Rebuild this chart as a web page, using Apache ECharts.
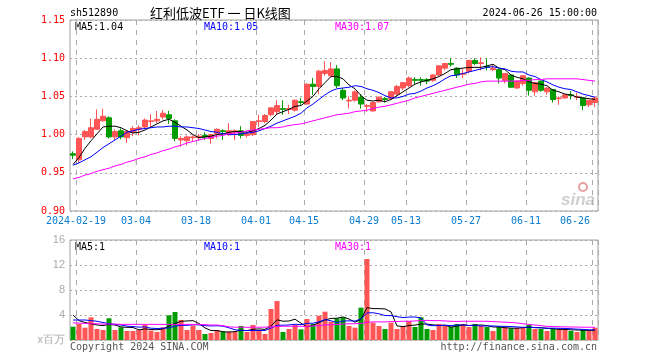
<!DOCTYPE html>
<html><head><meta charset="utf-8">
<script src="https://cdn.jsdelivr.net/npm/echarts@6/dist/echarts.min.js"></script>
<style>html,body{margin:0;padding:0;background:#fff}#c{width:660px;height:360px}</style>
</head><body><div id="c"></div>
<script>
const dates = ['02-08','02-19','02-20','02-21','02-22','02-23','02-26','02-27','02-28','02-29',
'03-01','03-04','03-05','03-06','03-07','03-08','03-11','03-12','03-13','03-14','03-15',
'03-18','03-19','03-20','03-21','03-22','03-25','03-26','03-27','03-28','03-29',
'04-01','04-02','04-03','04-08','04-09','04-10','04-11','04-12','04-15','04-16','04-17','04-18','04-19',
'04-22','04-23','04-24','04-25','04-26','04-29','04-30',
'05-06','05-07','05-08','05-09','05-10','05-13','05-14','05-15','05-16','05-17',
'05-20','05-21','05-22','05-23','05-24','05-27','05-28','05-29','05-30','05-31',
'06-03','06-04','06-05','06-06','06-07','06-11','06-12','06-13','06-14',
'06-17','06-18','06-19','06-20','06-21','06-24','06-25','06-26'];
const tickLabels = {'02-19':'2024-02-19','03-04':'03-04','03-18':'03-18','04-01':'04-01','04-15':'04-15',
'04-29':'04-29','05-13':'05-13','05-27':'05-27','06-11':'06-11','06-26':'06-26'};

const opens = [0.975,0.967,0.997,0.997,1.007,1.018,1.022,0.997,1.005,0.996,
1.003,1.007,1.010,1.017,1.018,1.023,1.026,1.018,0.993,0.992,
0.996,0.996,0.999,0.995,1.001,1.005,1.000,1.003,1.005,0.999,
1.000,1.017,1.017,1.026,1.030,1.034,1.033,1.032,1.043,1.040,
1.066,1.063,1.080,1.077,1.086,1.058,1.044,1.045,1.049,1.037,
1.031,1.043,1.047,1.047,1.053,1.061,1.064,1.072,1.072,1.072,
1.071,1.078,1.087,1.093,1.087,1.079,1.083,1.097,1.093,1.089,
1.085,1.085,1.071,1.078,1.061,1.067,1.074,1.056,1.070,1.056,
1.059,1.047,1.048,1.052,1.049,1.048,1.039,1.042];
const closes = [0.973,0.995,1.004,1.009,1.020,1.024,0.997,1.004,0.997,1.004,
1.008,1.009,1.019,1.018,1.020,1.028,1.021,0.995,0.995,0.997,
0.997,0.998,0.997,1.000,1.007,1.004,1.005,1.005,0.999,1.001,
1.017,1.018,1.025,1.035,1.038,1.033,1.034,1.045,1.042,1.066,
1.063,1.083,1.084,1.086,1.064,1.048,1.045,1.056,1.040,1.038,
1.042,1.049,1.046,1.056,1.063,1.068,1.074,1.071,1.071,1.070,
1.078,1.090,1.093,1.092,1.078,1.080,1.097,1.093,1.094,1.088,
1.087,1.074,1.080,1.062,1.070,1.077,1.058,1.068,1.058,1.061,
1.046,1.048,1.052,1.051,1.050,1.038,1.045,1.048];
const lows = [0.968,0.963,0.993,0.995,1.006,1.017,0.995,0.993,0.994,0.989,
0.998,0.999,1.008,1.010,1.015,1.020,1.014,0.991,0.984,0.986,
0.991,0.992,0.993,0.988,0.995,0.993,0.998,0.993,0.995,0.996,
0.998,1.010,1.015,1.024,1.026,1.026,1.027,1.030,1.039,1.039,
1.052,1.053,1.077,1.075,1.061,1.045,1.034,1.043,1.034,1.030,
1.030,1.042,1.042,1.045,1.051,1.058,1.062,1.066,1.064,1.066,
1.069,1.077,1.084,1.089,1.074,1.074,1.080,1.091,1.084,1.084,
1.083,1.067,1.067,1.061,1.060,1.064,1.051,1.051,1.056,1.052,
1.042,1.039,1.047,1.046,1.045,1.032,1.036,1.036];
const highs = [0.978,0.997,1.006,1.021,1.033,1.034,1.024,1.007,1.008,1.006,
1.011,1.012,1.021,1.027,1.031,1.032,1.031,1.020,0.998,0.999,
0.999,1.001,1.003,1.001,1.008,1.007,1.015,1.007,1.011,1.004,
1.018,1.026,1.027,1.036,1.045,1.045,1.039,1.046,1.048,1.067,
1.074,1.085,1.096,1.095,1.091,1.061,1.050,1.058,1.053,1.040,
1.043,1.050,1.049,1.057,1.065,1.069,1.076,1.075,1.075,1.074,
1.079,1.091,1.094,1.100,1.088,1.086,1.098,1.100,1.101,1.100,
1.091,1.086,1.080,1.079,1.071,1.077,1.075,1.069,1.071,1.062,
1.059,1.050,1.052,1.057,1.055,1.049,1.045,1.049];
const ma5 = [0.961,0.970,0.982,0.992,1.001,1.010,1.011,1.011,1.009,1.005,
1.002,1.003,1.006,1.010,1.014,1.018,1.020,1.016,1.011,1.006,
1.000,0.996,0.997,0.998,1.000,1.001,1.003,1.004,1.004,1.003,
1.005,1.008,1.012,1.019,1.027,1.030,1.033,1.037,1.038,1.044,
1.050,1.060,1.068,1.076,1.076,1.073,1.065,1.060,1.051,1.045,
1.044,1.045,1.043,1.046,1.051,1.056,1.061,1.066,1.069,1.071,
1.073,1.076,1.080,1.085,1.086,1.087,1.088,1.088,1.088,1.090,
1.092,1.087,1.085,1.078,1.075,1.073,1.069,1.067,1.066,1.064,
1.058,1.056,1.053,1.052,1.049,1.048,1.047,1.046];
const ma10 = [0.960,0.963,0.967,0.971,0.977,0.983,0.988,0.993,0.998,1.003,
1.005,1.007,1.008,1.009,1.010,1.010,1.011,1.011,1.010,1.010,
1.009,1.008,1.006,1.004,1.003,1.001,1.000,1.000,1.001,1.002,
1.003,1.005,1.008,1.011,1.015,1.018,1.021,1.024,1.028,1.035,
1.040,1.046,1.052,1.057,1.060,1.061,1.062,1.064,1.063,1.060,
1.058,1.055,1.051,1.048,1.048,1.050,1.053,1.054,1.057,1.061,
1.064,1.068,1.073,1.077,1.078,1.080,1.082,1.084,1.086,1.088,
1.089,1.087,1.086,1.083,1.082,1.082,1.078,1.076,1.072,1.069,
1.065,1.062,1.060,1.059,1.056,1.053,1.051,1.049];
const ma30 = [0.942,0.944,0.947,0.949,0.952,0.954,0.956,0.959,0.961,0.964,
0.966,0.969,0.971,0.974,0.976,0.979,0.981,0.984,0.986,0.989,
0.991,0.993,0.995,0.996,0.998,0.999,1.001,1.002,1.003,1.005,
1.006,1.007,1.008,1.009,1.009,1.010,1.012,1.013,1.014,1.016,
1.018,1.020,1.022,1.024,1.026,1.027,1.028,1.030,1.031,1.032,
1.034,1.036,1.037,1.039,1.041,1.043,1.045,1.048,1.050,1.052,
1.054,1.056,1.058,1.060,1.062,1.064,1.066,1.067,1.069,1.070,
1.070,1.070,1.070,1.070,1.070,1.071,1.071,1.072,1.072,1.073,
1.073,1.073,1.073,1.073,1.073,1.072,1.071,1.070];
const volumes = [2.13,2.56,1.97,3.63,1.76,1.60,3.47,1.60,2.03,1.44,
1.44,1.60,2.40,1.50,1.28,2.03,3.95,4.48,3.20,1.60,
2.29,1.60,0.96,1.12,1.60,1.33,1.33,1.33,2.24,1.28,
2.40,1.60,0.96,4.96,6.24,1.28,1.76,2.40,1.70,3.36,
2.56,3.89,4.53,2.93,3.47,3.63,2.24,1.97,5.17,12.96,
2.77,2.24,1.76,2.77,1.76,2.24,3.04,2.08,3.63,1.76,
1.60,2.56,2.24,2.13,2.56,2.56,2.08,2.56,2.24,2.08,
1.44,2.13,1.97,1.87,1.97,1.97,2.40,1.76,1.76,1.44,
1.76,1.76,1.76,1.44,1.28,1.60,1.60,1.97];
const volMa5 = [4.0,3.1,2.8,2.6,2.41,2.30,2.49,2.41,2.09,2.03,
2.00,1.62,1.78,1.68,1.64,1.76,2.23,2.65,2.99,3.05,
3.10,2.63,1.93,1.51,1.51,1.32,1.27,1.34,1.57,1.50,
1.72,1.77,1.70,2.24,3.23,3.01,3.04,3.33,2.68,2.10,
2.36,2.78,3.21,3.45,3.48,3.69,3.36,2.85,3.30,5.19,
5.02,5.02,4.98,4.50,2.26,2.15,2.31,2.38,2.55,2.55,
2.42,2.33,2.36,2.06,2.22,2.41,2.31,2.38,2.40,2.30,
2.08,2.09,1.97,1.90,1.88,1.98,2.04,1.99,1.97,1.87,
1.82,1.70,1.70,1.63,1.60,1.57,1.54,1.58];
const volMa10 = [3.2,3.2,3.2,3.1,3.0,2.8,2.6,2.5,2.4,2.22,
2.15,2.06,2.10,1.89,1.84,1.88,1.93,2.22,2.34,2.35,
2.43,2.43,2.29,2.25,2.28,2.21,1.95,1.64,1.54,1.51,
1.52,1.52,1.52,1.91,2.37,2.37,2.41,2.52,2.46,2.67,
2.69,2.91,3.27,3.07,2.79,3.03,3.07,3.03,3.38,4.34,
4.36,4.19,3.92,3.90,3.73,3.59,3.67,3.68,3.53,2.41,
2.29,2.32,2.37,2.31,2.39,2.42,2.32,2.37,2.23,2.26,
2.25,2.20,2.18,2.15,2.09,2.03,2.07,1.98,1.94,1.88,
1.90,1.87,1.85,1.80,1.74,1.70,1.62,1.64];
const volMa30 = [2.75,2.70,2.65,2.60,2.60,2.55,2.55,2.55,2.50,2.50,
2.50,2.50,2.50,2.50,2.50,2.50,2.50,2.50,2.50,2.50,
2.50,2.50,2.45,2.40,2.40,2.30,2.10,2.05,2.05,2.03,
2.05,2.05,2.05,2.10,2.16,2.20,2.20,2.20,2.20,2.17,
2.25,2.30,2.40,2.45,2.48,2.55,2.60,2.60,2.65,2.84,
2.90,2.90,2.90,2.95,2.96,3.00,3.00,3.05,3.10,3.14,
3.10,3.10,3.05,3.00,2.97,3.00,3.00,3.00,3.00,3.00,
2.95,2.90,2.85,2.80,2.73,2.60,2.50,2.40,2.30,2.18,
2.15,2.12,2.10,2.08,2.07,2.05,2.04,2.03];

const RED = '#ff5555', GREEN = '#009c00';
const MONO = '"DejaVu Sans Mono", "Liberation Mono", monospace';
const GRID_L = 70, GRID_W = 528;

const kData = dates.map((d, i) => [opens[i], closes[i], lows[i], highs[i]]);
const volData = volumes.map((v, i) => ({value: v, itemStyle: {color: closes[i] >= opens[i] ? RED : GREEN}}));
const isTick = (i, v) => Object.prototype.hasOwnProperty.call(tickLabels, dates[i]);

function txt(x, y, text, fill, font, align) {
  return {type: 'text', x: x, y: y, silent: true,
    style: {text: text, fill: fill, font: font, align: align || 'left', verticalAlign: 'middle',
            textAlign: align || 'left', textVerticalAlign: 'middle'}};
}
const F10 = '10px ' + MONO;

const chart = echarts.init(document.getElementById('c'), null, {renderer: 'canvas'});
chart.setOption({
  animation: false,
  backgroundColor: '#fff',
  grid: [
    {left: GRID_L, top: 20, width: GRID_W, height: 191, show: true, borderColor: '#a0a0a0', borderWidth: 1, backgroundColor: 'transparent'},
    {left: GRID_L, top: 240, width: GRID_W, height: 100, show: true, borderColor: '#a0a0a0', borderWidth: 1, backgroundColor: 'transparent'}
  ],
  xAxis: [
    {type: 'category', gridIndex: 0, data: dates, boundaryGap: true,
     axisLine: {show: false}, axisTick: {show: false},
     axisLabel: {interval: isTick, margin: 5, fontFamily: MONO, fontSize: 10, color: '#0a7cd0',
       formatter: (v) => (v === '06-26' ? '{b|' : '{a|') + tickLabels[v] + '}',
       rich: {a: {padding: [0, 6, 0, 0], fontFamily: MONO, fontSize: 10, color: '#0a7cd0'},
              b: {padding: [0, 40, 0, 0], fontFamily: MONO, fontSize: 10, color: '#0a7cd0'}}},
     splitLine: {show: true, interval: isTick, lineStyle: {color: '#aaaaaa', type: [5, 5], width: 1}}},
    {type: 'category', gridIndex: 1, data: dates, boundaryGap: true,
     axisLine: {show: false}, axisTick: {show: false}, axisLabel: {show: false},
     splitLine: {show: true, interval: isTick, lineStyle: {color: '#aaaaaa', type: [5, 5], width: 1}}}
  ],
  yAxis: [
    {type: 'value', gridIndex: 0, min: 0.90, max: 1.15, interval: 0.05, scale: false,
     axisLine: {show: false}, axisTick: {show: false},
     axisLabel: {color: '#ff0000', fontFamily: MONO, fontSize: 10, margin: 5, formatter: (v) => v.toFixed(2)},
     splitLine: {lineStyle: {color: '#aaaaaa', type: [2, 3], width: 1}}},
    {type: 'value', gridIndex: 1, min: 0, max: 16, interval: 4,
     axisLine: {show: false}, axisTick: {show: false},
     axisLabel: {color: '#aaaaaa', fontFamily: '"Liberation Sans", Arial, sans-serif', fontSize: 11, margin: 5,
       formatter: (v) => v === 0 ? 'x百万' : String(v)},
     splitLine: {lineStyle: {color: '#aaaaaa', type: [2, 3], width: 1}}}
  ],
  series: [
    {type: 'candlestick', xAxisIndex: 0, yAxisIndex: 0, data: kData, barWidth: 5,
     itemStyle: {color: RED, color0: GREEN, borderColor: RED, borderColor0: GREEN, borderWidth: 1}},
    {type: 'line', xAxisIndex: 0, yAxisIndex: 0, data: ma5, symbol: 'none', lineStyle: {color: '#000000', width: 1}},
    {type: 'line', xAxisIndex: 0, yAxisIndex: 0, data: ma10, symbol: 'none', lineStyle: {color: '#0000ff', width: 1}},
    {type: 'line', xAxisIndex: 0, yAxisIndex: 0, data: ma30, symbol: 'none', lineStyle: {color: '#ff00ff', width: 1}},
    {type: 'bar', xAxisIndex: 1, yAxisIndex: 1, data: volData, barWidth: 5},
    {type: 'line', xAxisIndex: 1, yAxisIndex: 1, data: volMa5, symbol: 'none', lineStyle: {color: '#000000', width: 1}},
    {type: 'line', xAxisIndex: 1, yAxisIndex: 1, data: volMa10, symbol: 'none', lineStyle: {color: '#0000ff', width: 1}},
    {type: 'line', xAxisIndex: 1, yAxisIndex: 1, data: volMa30, symbol: 'none', lineStyle: {color: '#ff00ff', width: 1}}
  ],
  graphic: [
    txt(70, 13, 'sh512890', '#000', F10),
    txt(150, 13, '红利低波ETF 一 日K线图', '#000', '13px "Noto Sans CJK SC", sans-serif'),
    txt(597, 13, '2024-06-26 15:00:00', '#000', F10, 'right'),
    txt(75, 27, 'MA5:1.04', '#000', F10),
    txt(204, 27, 'MA10:1.05', '#0000ff', F10),
    txt(335, 27, 'MA30:1.07', '#ff00ff', F10),
    txt(75, 247, 'MA5:1', '#000', F10),
    txt(204, 247, 'MA10:1', '#0000ff', F10),
    txt(335, 247, 'MA30:1', '#ff00ff', F10),
    txt(70, 347, 'Copyright 2024 SINA.COM', '#555', F10),
    txt(597, 347, 'http://finance.sina.com.cn', '#555', F10, 'right'),
    {type: 'text', x: 595, y: 200, silent: true,
     style: {text: 'sina', fill: '#cfcfcf', font: 'italic bold 17px "Liberation Sans", sans-serif',
             align: 'right', verticalAlign: 'middle', textAlign: 'right', textVerticalAlign: 'middle'}},
    {type: 'circle', shape: {cx: 583, cy: 187, r: 4}, silent: true,
     style: {fill: 'none', stroke: '#e8a0a0', lineWidth: 2}}
  ]
});
</script>
</body></html>
